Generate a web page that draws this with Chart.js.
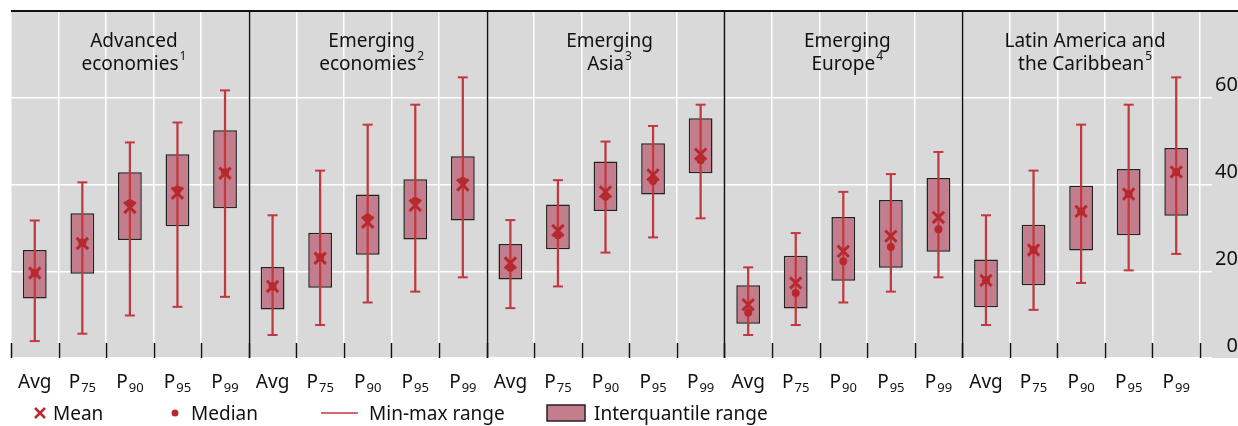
<!DOCTYPE html>
<html>
<head>
<meta charset="utf-8">
<script src="https://cdn.jsdelivr.net/npm/chart.js@4"></script>
<style>
  html, body { margin: 0; background: #fff; overflow: hidden; }
  #wrap { width: 1238px; height: 426px; }
  canvas { display: block; }
</style>
</head>
<body>
<div id="wrap"><canvas id="chart" width="1238" height="426"></canvas></div>
<script>
const tickLabels = [
  "Avg", "P75", "P90", "P95", "P99",
  "Avg", "P75", "P90", "P95", "P99",
  "Avg", "P75", "P90", "P95", "P99",
  "Avg", "P75", "P90", "P95", "P99",
  "Avg", "P75", "P90", "P95", "P99"
];

const panelTitles = [
  ["Advanced", "economies", "1"],
  ["Emerging", "economies", "2"],
  ["Emerging", "Asia", "3"],
  ["Emerging", "Europe", "4"],
  ["Latin America and", "the Caribbean", "5"]
];

const yTicks = [0, 20, 40, 60];

const minVals = [
  3.9, 5.6, 9.8, 11.8, 14.1,
  5.3, 7.6, 12.8, 15.3, 18.6,
  11.5, 16.5, 24.3, 27.8, 32.2,
  5.3, 7.6, 12.8, 15.3, 18.6,
  7.6, 11.1, 17.3, 20.2, 24.0
];
const maxVals = [
  31.7, 40.5, 49.7, 54.3, 61.7,
  32.9, 43.2, 53.8, 58.4, 64.7,
  31.8, 41.0, 49.9, 53.5, 58.4,
  20.9, 28.8, 38.3, 42.4, 47.5,
  32.9, 43.2, 53.8, 58.4, 64.7
];
const q1Vals = [
  13.7, 19.4, 27.2, 30.4, 34.5,
  11.2, 16.2, 23.8, 27.3, 31.7,
  18.1, 25.1, 33.9, 37.7, 42.6,
  7.9, 11.4, 17.8, 20.8, 24.5,
  11.7, 16.8, 24.8, 28.3, 32.8
];
const q3Vals = [
  24.9, 33.4, 42.8, 47.0, 52.5,
  21.0, 28.9, 37.7, 41.2, 46.5,
  26.3, 35.4, 45.3, 49.5, 55.3,
  16.8, 23.6, 32.5, 36.4, 41.5,
  22.7, 30.7, 39.7, 43.6, 48.4
];
const meanVals = [
  19.6, 26.4, 34.7, 38.0, 42.6,
  16.5, 23.0, 31.3, 35.2, 39.9,
  21.9, 29.4, 38.3, 42.2, 47.0,
  12.3, 17.3, 24.6, 28.1, 32.4,
  17.9, 24.9, 33.8, 37.8, 42.9
];
const medianVals = [
  19.6, 26.6, 35.7, 38.8, 42.8,
  16.5, 23.2, 32.4, 36.2, 40.8,
  20.8, 28.3, 37.2, 40.8, 45.6,
  10.5, 15.0, 22.3, 25.6, 29.7,
  17.9, 24.9, 33.8, 37.8, 42.9
];

const RED = "#b8292f";
const WHISKER = "#c0393f";
const BOX = "#c47d8c";
const FONT = "'Noto Sans', 'Open Sans', sans-serif";

function drawWithSup(ctx, main, sup, cx, base, size, supSize, dy, align) {
  ctx.font = size + "px " + FONT;
  const w1 = ctx.measureText(main).width;
  ctx.font = supSize + "px " + FONT;
  const w2 = sup ? ctx.measureText(sup).width + 1 : 0;
  const x0 = align === "left" ? cx : cx - (w1 + w2) / 2;
  ctx.textAlign = "left";
  ctx.textBaseline = "alphabetic";
  ctx.font = size + "px " + FONT;
  ctx.fillText(main, x0, base);
  if (sup) {
    ctx.font = supSize + "px " + FONT;
    ctx.fillText(sup, x0 + w1 + 1, base + dy);
  }
}

const decor = {
  id: "decor",
  beforeDraw(chart) {
    const { ctx, chartArea: a } = chart;
    ctx.save();
    ctx.fillStyle = "#d9d9d9";
    ctx.fillRect(a.left, a.top, chart.canvas.width - a.left, a.bottom - a.top);
    ctx.restore();
  },
  afterDraw(chart) {
    const { ctx, chartArea: a } = chart;
    const x = chart.scales.x;
    const half = (x.getPixelForValue(1) - x.getPixelForValue(0)) / 2;
    ctx.save();
    ctx.fillStyle = "#111";
    ctx.strokeStyle = "#111";

    // top border
    ctx.lineWidth = 2;
    ctx.beginPath();
    ctx.moveTo(a.left, a.top);
    ctx.lineTo(chart.canvas.width, a.top);
    ctx.stroke();

    // bottom tick marks
    ctx.lineWidth = 1.5;
    for (let i = 0; i <= tickLabels.length; i++) {
      const px = Math.round(x.getPixelForValue(i) - half) + 0.5;
      ctx.beginPath();
      ctx.moveTo(px, a.bottom - 15);
      ctx.lineTo(px, a.bottom);
      ctx.stroke();
    }

    // panel separators
    for (let p = 1; p < panelTitles.length; p++) {
      const px = Math.round(x.getPixelForValue(p * 5) - half) + 0.5;
      ctx.beginPath();
      ctx.moveTo(px, a.top);
      ctx.lineTo(px, a.bottom);
      ctx.stroke();
    }

    // panel titles
    panelTitles.forEach((t, p) => {
      const cx = (x.getPixelForValue(p * 5) + x.getPixelForValue(p * 5 + 4)) / 2 + 4;
      drawWithSup(ctx, t[0], "", cx, 47, 19, 12, 0);
      drawWithSup(ctx, t[1], t[2], cx, 70, 19, 12, -10);
    });

    // x labels
    tickLabels.forEach((lab, i) => {
      const cx = x.getPixelForValue(i);
      if (lab[0] === "P") drawWithSup(ctx, "P", lab.slice(1), cx, 388, 19, 13, 4);
      else drawWithSup(ctx, lab, "", cx, 388, 19, 13, 0);
    });

    // legend
    const ly = 413;
    ctx.strokeStyle = RED;
    ctx.lineWidth = 2.5;
    ctx.beginPath();
    ctx.moveTo(35, ly - 5); ctx.lineTo(45, ly + 5);
    ctx.moveTo(45, ly - 5); ctx.lineTo(35, ly + 5);
    ctx.stroke();
    ctx.fillStyle = RED;
    ctx.beginPath();
    ctx.arc(175, ly, 3.5, 0, Math.PI * 2);
    ctx.fill();
    ctx.strokeStyle = WHISKER;
    ctx.lineWidth = 1.5;
    ctx.beginPath();
    ctx.moveTo(321, ly); ctx.lineTo(358, ly);
    ctx.stroke();
    ctx.fillStyle = BOX;
    ctx.fillRect(547, ly - 8, 38, 16);
    ctx.strokeStyle = "#222";
    ctx.lineWidth = 1.5;
    ctx.strokeRect(547, ly - 8, 38, 16);
    ctx.fillStyle = "#111";
    drawWithSup(ctx, "Mean", "", 53, 420, 19, 12, 0, "left");
    drawWithSup(ctx, "Median", "", 191, 420, 19, 12, 0, "left");
    drawWithSup(ctx, "Min-max range", "", 369, 420, 19, 12, 0, "left");
    drawWithSup(ctx, "Interquantile range", "", 594, 420, 19, 12, 0, "left");
    ctx.restore();
  }
};

new Chart(document.getElementById("chart"), {
  type: "bar",
  data: {
    labels: tickLabels,
    datasets: [
      {
        type: "line",
        label: "Mean",
        data: meanVals,
        showLine: false,
        pointStyle: "crossRot",
        pointRadius: 8,
        borderWidth: 3,
        borderColor: RED,
        order: 1
      },
      {
        type: "line",
        label: "Median",
        data: medianVals,
        showLine: false,
        pointStyle: "circle",
        pointRadius: 4,
        borderWidth: 0,
        backgroundColor: RED,
        order: 2
      },
      {
        type: "line",
        label: "Max cap",
        data: maxVals,
        showLine: false,
        pointStyle: "line",
        pointRadius: 5,
        borderWidth: 2,
        borderColor: WHISKER,
        order: 3
      },
      {
        type: "line",
        label: "Min cap",
        data: minVals,
        showLine: false,
        pointStyle: "line",
        pointRadius: 5,
        borderWidth: 2,
        borderColor: WHISKER,
        order: 4
      },
      {
        label: "Min-max range",
        data: minVals.map((v, i) => [v, maxVals[i]]),
        backgroundColor: WHISKER,
        barThickness: 1.6,
        grouped: false,
        order: 5
      },
      {
        label: "Interquantile range",
        data: q1Vals.map((v, i) => [v, q3Vals[i]]),
        backgroundColor: BOX,
        borderColor: "#222",
        borderWidth: 1.5,
        borderSkipped: false,
        barPercentage: 0.5,
        categoryPercentage: 1,
        grouped: false,
        order: 6
      }
    ]
  },
  options: {
    responsive: false,
    animation: false,
    layout: { padding: { left: 9, top: 11, right: 0, bottom: 0 } },
    plugins: { legend: { display: false }, tooltip: { enabled: false } },
    scales: {
      x: {
        offset: true,
        grid: { color: "#fff", lineWidth: 1.5, offset: true, drawTicks: false },
        border: { display: false },
        ticks: { display: false },
        afterFit: s => { s.height = 68; s.paddingLeft = 0; s.paddingRight = 0; }
      },
      y: {
        position: "right",
        min: 0,
        max: 80,
        afterBuildTicks: s => { s.ticks = yTicks.concat([80]).map(v => ({ value: v })); },
        grid: { color: "#fff", lineWidth: 1.5, tickLength: 12 },
        border: { display: false },
        ticks: {
          padding: 0,
          crossAlign: "far",
          labelOffset: -12,
          color: "#111",
          font: { size: 20, family: FONT },
          callback: v => (yTicks.includes(v) ? v : "")
        },
        afterFit: s => { s.width = 38; s.paddingTop = 0; s.paddingBottom = 0; }
      }
    }
  },
  plugins: [decor]
});
</script>
</body>
</html>
